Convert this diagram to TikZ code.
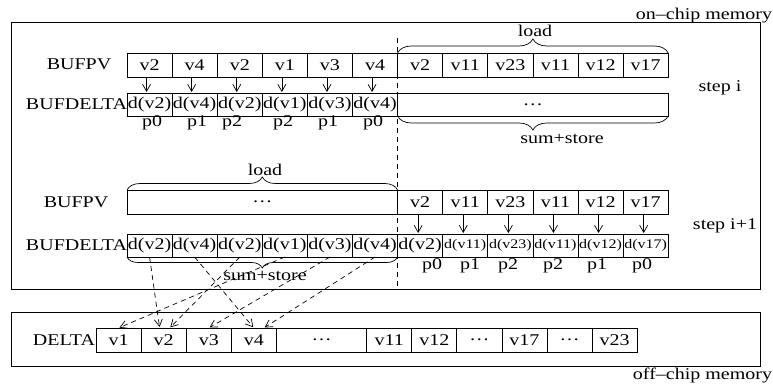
\documentclass[tikz,border=0pt]{standalone}
\usepackage{fontspec}
\setmainfont{Liberation Serif}
\usepackage{graphicx}
\usetikzlibrary{arrows.meta,decorations.pathreplacing}
\newcommand{\sq}[1]{\scalebox{1}[0.82]{#1}}
\begin{document}
\begin{tikzpicture}[x=1pt,y=-1pt,
  every node/.style={font=\fontsize{20}{22}\selectfont, inner sep=0pt, outer sep=0pt},
  cell/.style={draw, rectangle, line width=0.8pt, minimum width=45.1pt, minimum height=24pt, anchor=north west},
  dcell/.style={cell, minimum height=23pt},
  smallt/.style={font=\fontsize{16}{18}\selectfont},
  memo/.style={draw, rectangle, line width=0.9pt, anchor=north west},
  parr/.style={-{Straight Barb[length=7pt,width=8pt]}, line width=0.7pt, shorten >=1pt},
  darr/.style={parr, dash pattern=on 5pt off 4pt},
  brc/.style={decorate, decoration={brace, amplitude=#1}, line width=0.7pt},
  dline/.style={dash pattern=on 5pt off 4pt, line width=0.7pt},
]
\useasboundingbox (0,0) rectangle (773,390);

% memory boxes
\node[memo, minimum width=749pt, minimum height=267pt] (onchip) at (11,22) {};
\node[memo, minimum width=749pt, minimum height=54pt] (offchip) at (11,312) {};
\node[anchor=east] (onlbl) at (772,15.5) {\sq{on--chip memory}};
\node[anchor=east] (offlbl) at (772,375) {\sq{off--chip memory}};

% ---------- step i ----------
\foreach \t [count=\i] in {v2,v4,v2,v1,v3,v4,v2,v11,v23,v11,v12,v17}
  \node[cell] (a\i) at ({127+45.1*(\i-1)},53) {\sq{\t}};
\foreach \t [count=\i] in {d(v2),d(v4),d(v2),d(v1),d(v3),d(v4)}
  \node[dcell] (b\i) at ({127+45.1*(\i-1)},93) {\sq{\t}};
\node[dcell, minimum width=270.6pt] (bw) at (397.6,93) {\sq{\ldots}};
\foreach \i in {1,...,6}
  \draw[parr] ([xshift=-3pt]a\i.south) -- ([xshift=-3pt]b\i.north);
\foreach \x/\p [count=\i] in {152/p0,197/p1,232/p2,283/p2,328/p1,373/p0}
  \node (pa\i) at (\x,123) {\sq{\p}};
\draw[brc=14pt] (a7.north west) -- (a12.north east);
\node (load1) at (535,31) {\sq{load}};
\draw[brc=14pt] (bw.south east) -- (bw.south west);
\node (sum1) at (562,139) {\sq{sum+store}};
\node (pv1) at (79,64) {\sq{BUFPV}};
\node[anchor=east] (bd1) at (b1.west) {\sq{BUFDELTA}};
\node (st1) at (720,88) {\sq{step i}};

% ---------- step i+1 ----------
\node[cell, minimum width=270.6pt] (cw) at (127,190) {\sq{\ldots}};
\foreach \t [count=\i from 7] in {v2,v11,v23,v11,v12,v17}
  \node[cell] (c\i) at ({127+45.1*(\i-1)},190) {\sq{\t}};
\foreach \t [count=\i] in {d(v2),d(v4),d(v2),d(v1),d(v3),d(v4),d(v2)}
  \node[dcell] (e\i) at ({127+45.1*(\i-1)},234) {\sq{\t}};
\foreach \t [count=\i from 8] in {d(v11),d(v23),d(v11),d(v12),d(v17)}
  \node[dcell, smallt] (e\i) at ({127+45.1*(\i-1)},234) {\sq{\t}};
\foreach \i in {7,...,12}
  \draw[parr] ([xshift=-2pt]c\i.south) -- ([xshift=-2pt]e\i.north);
\foreach \x/\p [count=\i] in {432/p0,470/p1,508/p2,553/p2,597/p1,642/p0}
  \node (pc\i) at (\x,266) {\sq{\p}};
\draw[brc=13pt] (cw.north west) -- (cw.north east);
\node (load2) at (265,170) {\sq{load}};
\draw[brc=11pt] (e6.south east) -- (e1.south west);
\node (sum2) at (265,276) {\sq{sum+store}};
\node (pv2) at (76,202) {\sq{BUFPV}};
\node[anchor=east] (bd2) at (e1.west) {\sq{BUFDELTA}};
\node (st2) at (725,226) {\sq{step i+1}};

% dashed separator
\coordinate (dtop) at (397.6,38);
\coordinate (dbot) at (397.6,286);
\draw[dline] (dtop) -- (dbot);

% ---------- DELTA (off-chip) ----------
\node[cell] (D1) at (96,328) {\sq{v1}};
\node[cell] (D2) at (141.1,328) {\sq{v2}};
\node[cell] (D3) at (186.2,328) {\sq{v3}};
\node[cell] (D4) at (231.3,328) {\sq{v4}};
\node[cell, minimum width=90.2pt] (D5) at (276.4,328) {\sq{\ldots}};
\node[cell] (D11) at (366.6,328) {\sq{v11}};
\node[cell] (D12) at (411.7,328) {\sq{v12}};
\node[cell] (D13) at (456.8,328) {\sq{\ldots}};
\node[cell] (D17) at (501.9,328) {\sq{v17}};
\node[cell] (D18) at (547,328) {\sq{\ldots}};
\node[cell] (D23) at (592.1,328) {\sq{v23}};
\node[anchor=east] (dl) at ([xshift=-1pt]D1.west) {\sq{DELTA}};

\draw[darr] (e1.south) -- ([xshift=-4pt]D2.north);
\draw[darr] (e2.south) -- (D4.north);
\draw[darr] (e3.south) -- ([xshift=6pt]D2.north);
\draw[darr] (e4.south) -- (D1.north);
\draw[darr] (e5.south) -- (D3.north);
\draw[darr] (e6.south) -- ([xshift=10pt]D4.north);
\end{tikzpicture}
\end{document}
